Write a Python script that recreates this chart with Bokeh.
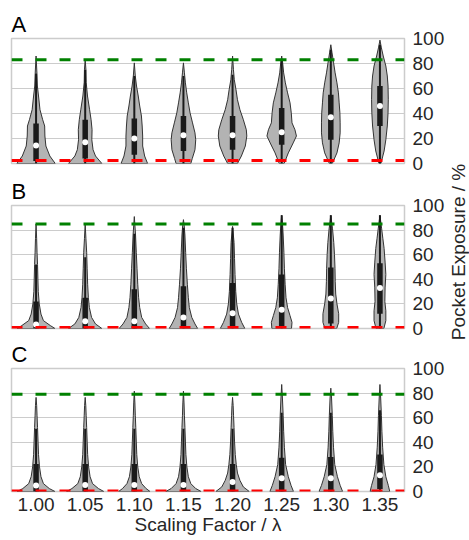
import math
from bokeh.plotting import figure
from bokeh.layouts import column, row
from bokeh.models import Span, FixedTicker, Label, Range1d
from bokeh.embed import file_html
from bokeh.resources import INLINE

# ---------------- data ----------------
categories = ["1.00", "1.05", "1.10", "1.15", "1.20", "1.25", "1.30", "1.35"]
y_ticks = [0, 20, 40, 60, 80, 100]

# Panel A: violin profiles (value levels and half-widths in category units)
A_levels = [
    [0, 6, 14, 22, 30, 35, 43, 54, 62, 72, 86],
    [0, 6, 11, 19, 27, 35, 43, 54, 65, 75, 83],
    [0, 6, 14, 22, 30, 38, 46, 54, 62, 70, 80.5],
    [0, 4, 11, 19, 24.5, 32.5, 40.5, 48.5, 56.5, 64.5, 72.5, 80.5],
    [0, 6, 14, 22, 27, 35, 43, 51, 59, 67, 75, 86],
    [0, 8.5, 16.5, 22, 27, 32.5, 40.5, 48.5, 56.5, 64.5, 72.5, 80.5, 86],
    [0, 8.5, 16.5, 24.5, 32.5, 40.5, 48.5, 56.5, 64.5, 72.5, 80.5, 88.5, 95],
    [0, 10, 19, 30, 40.5, 51, 62, 70, 78, 86, 92.5, 98.7],
]
A_widths = [
    [0.39, 0.28, 0.20, 0.18, 0.175, 0.135, 0.08, 0.05, 0.027, 0.018, 0],
    [0.34, 0.21, 0.16, 0.135, 0.14, 0.12, 0.09, 0.047, 0.02, 0.015, 0],
    [0.27, 0.21, 0.17, 0.17, 0.16, 0.145, 0.11, 0.08, 0.045, 0.02, 0],
    [0.15, 0.18, 0.235, 0.25, 0.235, 0.185, 0.135, 0.1, 0.067, 0.04, 0.02, 0],
    [0.1, 0.18, 0.26, 0.29, 0.28, 0.22, 0.15, 0.1, 0.07, 0.035, 0.018, 0],
    [0.05, 0.135, 0.235, 0.3, 0.27, 0.21, 0.195, 0.17, 0.12, 0.075, 0.04, 0.02, 0],
    [0.03, 0.125, 0.17, 0.19, 0.19, 0.185, 0.17, 0.155, 0.125, 0.088, 0.057, 0.025, 0],
    [0.02, 0.085, 0.12, 0.15, 0.165, 0.17, 0.165, 0.15, 0.12, 0.067, 0.03, 0],
]
A_whisk_lo = [0, 0, 0, 0, 0, 0, 0, 0]
A_q1 = [2, 4, 7, 10, 11, 15, 19, 30]
A_median = [14.5, 17, 20, 22.7, 22.7, 25, 37, 46]
A_q3 = [32, 35, 36, 38, 38, 44.5, 55, 62]
A_whisk_hi = [72, 75, 70, 70, 71, 82, 91, 95]
A_ref_hi = 83
A_ref_lo = 2.5

# Panel B
B_levels = [
    [0, 2.4, 6.4, 11.7, 20, 30, 41, 52, 62, 73, 85],
    [0, 3.7, 9, 17, 25, 36, 49, 62, 73, 85],
    [0, 3.7, 9, 17, 25, 36, 49, 62, 76, 84, 91],
    [0, 3.7, 9, 17, 25, 36, 49, 62, 76, 84, 88.5],
    [0, 5, 11.7, 20, 30, 44, 57, 70, 83],
    [0, 5, 10.4, 17, 25, 36, 49, 62, 76, 86, 92],
    [0, 5, 12, 20, 28, 38, 49, 60, 70, 81, 92],
    [0, 6.4, 14.4, 22, 33, 44, 54, 65, 73, 81, 92],
]
B_widths = [
    [0.385, 0.29, 0.15, 0.1, 0.065, 0.045, 0.037, 0.03, 0.02, 0.012, 0],
    [0.34, 0.21, 0.13, 0.085, 0.065, 0.05, 0.04, 0.03, 0.015, 0],
    [0.31, 0.23, 0.15, 0.11, 0.088, 0.07, 0.055, 0.04, 0.025, 0.012, 0],
    [0.29, 0.235, 0.17, 0.12, 0.1, 0.08, 0.06, 0.045, 0.03, 0.015, 0],
    [0.25, 0.185, 0.12, 0.085, 0.065, 0.05, 0.04, 0.03, 0],
    [0.2, 0.21, 0.17, 0.12, 0.088, 0.07, 0.055, 0.045, 0.03, 0.015, 0],
    [0.12, 0.16, 0.16, 0.125, 0.1, 0.09, 0.085, 0.075, 0.06, 0.035, 0],
    [0.08, 0.12, 0.12, 0.1, 0.105, 0.12, 0.105, 0.085, 0.06, 0.035, 0],
]
B_whisk_lo = [0, 0, 0, 0, 0, 0, 0, 0]
B_q1 = [0, 0, 0, 1, 1, 2, 4, 12]
B_median = [3.2, 5.9, 5.9, 9, 12.3, 15.2, 24.3, 33]
B_q3 = [22, 25, 32, 34.4, 37, 44, 49.6, 53]
B_whisk_hi = [52, 58, 77, 82, 82, 92, 92, 92]
B_ref_hi = 85
B_ref_lo = 0.8

# Panel C
C_levels = [
    [0, 2.4, 6.4, 12, 20, 30, 41, 52, 62, 70, 76.5],
    [0, 2.4, 6.4, 12, 20, 30, 41, 52, 62, 70, 76.5],
    [0, 2.4, 6.4, 12, 20, 30, 41, 52, 62, 72, 81.6],
    [0, 2.4, 6.4, 12, 20, 30, 41, 52, 62, 72, 81.6],
    [0, 3.7, 9, 15, 22, 30, 41, 52, 62, 70, 76.5],
    [0, 5, 12, 22, 36, 49, 62, 76, 87],
    [0, 5, 12, 22, 36, 49, 62, 76, 84],
    [0, 5, 12, 22, 36, 49, 62, 76, 87],
]
C_widths = [
    [0.385, 0.27, 0.15, 0.1, 0.07, 0.05, 0.04, 0.03, 0.02, 0.012, 0],
    [0.38, 0.27, 0.15, 0.1, 0.07, 0.05, 0.04, 0.03, 0.02, 0.012, 0],
    [0.32, 0.24, 0.15, 0.1, 0.07, 0.05, 0.04, 0.03, 0.02, 0.012, 0],
    [0.36, 0.25, 0.15, 0.1, 0.07, 0.05, 0.04, 0.03, 0.02, 0.012, 0],
    [0.34, 0.22, 0.15, 0.1, 0.075, 0.055, 0.04, 0.03, 0.02, 0.012, 0],
    [0.24, 0.19, 0.135, 0.08, 0.055, 0.04, 0.03, 0.015, 0],
    [0.24, 0.19, 0.135, 0.08, 0.055, 0.04, 0.03, 0.015, 0],
    [0.2, 0.17, 0.12, 0.08, 0.055, 0.04, 0.03, 0.015, 0],
]
C_whisk_lo = [0, 0, 0, 0, 0, 0, 0, 0]
C_q1 = [0, 0, 0, 0, 0, 0, 0, 2]
C_median = [4.8, 5.3, 5.3, 5.3, 7.8, 10.7, 10.7, 13.3]
C_q3 = [22.4, 22.4, 22.4, 22.4, 22.4, 27.5, 28, 30]
C_whisk_hi = [51, 51, 51, 51, 51, 64, 64, 66]
C_ref_hi = 79
C_ref_lo = 0.5

# ---------------- styling ----------------
FONT = "Liberation Sans"
TXT = "#262626"
FIG_W = 447
positions = list(range(len(categories)))


def make_panel(title, levels, widths, wlo, q1, med, q3, whi, ref_hi, ref_lo,
               height, border_top, border_bottom, show_x):
    p = figure(width=FIG_W, height=height,
               x_range=Range1d(-0.5, len(categories) - 0.5),
               y_range=Range1d(0, 100),
               y_axis_location="right",
               x_axis_location="below" if show_x else None,
               toolbar_location=None, output_backend="svg",
               min_border_left=11, min_border_right=40,
               min_border_top=border_top, min_border_bottom=border_bottom)
    p.title.text = title
    p.title.text_font = FONT
    p.title.text_font_size = "22px"
    p.title.text_font_style = "normal"
    p.title.text_color = "black"
    p.title.align = "left"
    p.title.standoff = 3

    p.outline_line_color = "#cccccc"
    p.outline_line_width = 1.5
    p.background_fill_color = "white"

    p.xgrid.visible = False
    p.ygrid.ticker = FixedTicker(ticks=y_ticks)
    p.ygrid.grid_line_color = "#cccccc"
    p.ygrid.grid_line_width = 1.2

    ya = p.yaxis[0]
    ya.ticker = FixedTicker(ticks=y_ticks)
    ya.axis_line_color = None
    ya.major_tick_line_color = None
    ya.minor_tick_line_color = None
    ya.major_tick_out = 0
    ya.major_label_text_font = FONT
    ya.major_label_text_font_size = "19px"
    ya.major_label_text_color = TXT
    ya.major_label_standoff = 8

    if show_x:
        xa = p.xaxis[0]
        xa.ticker = FixedTicker(ticks=positions)
        xa.major_label_overrides = {pos: lab for pos, lab in zip(positions, categories)}
        xa.axis_line_color = None
        xa.major_tick_line_color = None
        xa.minor_tick_line_color = None
        xa.major_tick_out = 0
        xa.major_label_text_font = FONT
        xa.major_label_text_font_size = "19px"
        xa.major_label_text_color = TXT
        xa.major_label_standoff = 6
        xa.axis_label = "Scaling Factor / λ"
        xa.axis_label_text_font = FONT
        xa.axis_label_text_font_size = "19px"
        xa.axis_label_text_font_style = "normal"
        xa.axis_label_text_color = TXT
        xa.axis_label_standoff = 0

    xs, ys = [], []
    for pos, lv, w in zip(positions, levels, widths):
        xs.append([pos - v for v in w] + [pos + v for v in reversed(w)])
        ys.append(list(lv) + list(reversed(lv)))
    p.patches(xs, ys, fill_color="#b3b3b3", line_color="#333333", line_width=1)

    p.segment(x0=positions, y0=wlo, x1=positions, y1=whi,
              line_color="#1a1a1a", line_width=2)
    p.segment(x0=positions, y0=q1, x1=positions, y1=q3,
              line_color="#1a1a1a", line_width=5.5)
    p.scatter(x=positions, y=med, size=6, fill_color="white", line_color=None)

    p.add_layout(Span(location=ref_hi, dimension="width", line_color="green",
                      line_width=3, line_dash="11 13"))
    p.add_layout(Span(location=ref_lo, dimension="width", line_color="red",
                      line_width=3, line_dash="11 13"))
    return p


pA = make_panel("A", A_levels, A_widths, A_whisk_lo, A_q1, A_median, A_q3, A_whisk_hi,
                A_ref_hi, A_ref_lo, 175, 38, 12, False)
pB = make_panel("B", B_levels, B_widths, B_whisk_lo, B_q1, B_median, B_q3, B_whisk_hi,
                B_ref_hi, B_ref_lo, 163, 28, 10, False)
pC = make_panel("C", C_levels, C_widths, C_whisk_lo, C_q1, C_median, C_q3, C_whisk_hi,
                C_ref_hi, C_ref_lo, 202, 28, 49, True)

# side strip carrying the shared y-axis label
lab_w = 469 - FIG_W
pL = figure(width=lab_w, height=540, x_range=Range1d(0, lab_w), y_range=Range1d(0, 540),
            x_axis_location=None, y_axis_location=None, toolbar_location=None,
            output_backend="svg", min_border=0)
pL.outline_line_color = None
pL.xgrid.visible = False
pL.ygrid.visible = False
pL.add_layout(Label(x=lab_w / 2, y=540 - 251.5, text="Pocket Exposure / %",
                    angle=math.pi / 2, text_align="center", text_baseline="middle",
                    text_font=FONT, text_font_size="19px", text_color=TXT))

layout = row(column(pA, pB, pC), pL)
open("out.html", "w").write(file_html(layout, INLINE))
